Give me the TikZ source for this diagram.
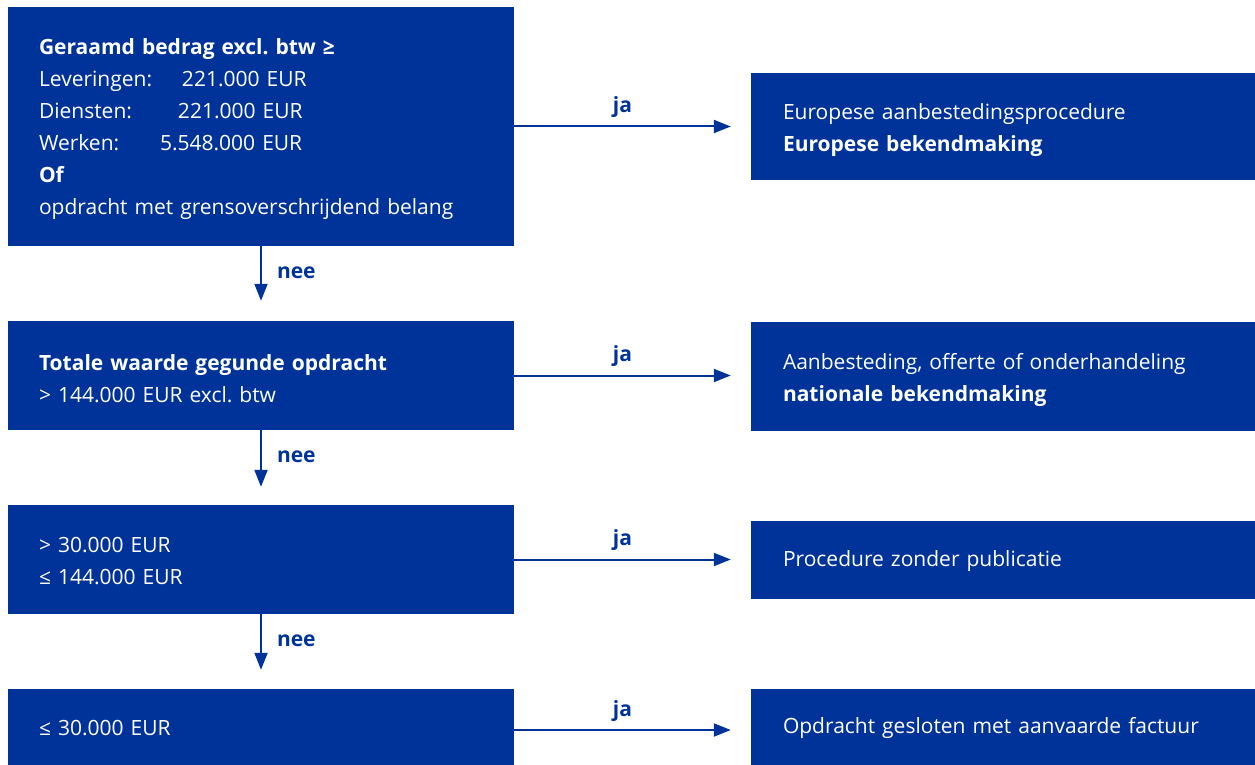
\documentclass[tikz,border=0pt]{standalone}
\usepackage{fontspec}
\setmainfont{Open Sans}
\frenchspacing
\usetikzlibrary{arrows.meta}
\definecolor{euBlue}{RGB}{0,51,153}
\newcommand{\bovenstrut}[1]{\rule{0pt}{#1}}

\begin{document}
\begin{tikzpicture}[x=1pt,y=-1pt,
    vak/.style={rectangle,fill=euBlue,text=white,align=left,inner ysep=0pt,
      font=\fontsize{21}{32}\selectfont},
    links/.style={vak,text width=444pt,inner xsep=31pt},
    rechts/.style={vak,text width=440pt,inner xsep=32pt},
    pijl/.style={euBlue,line width=2pt,-{Triangle[length=17pt,width=13pt]}},
    lbl/.style={text=euBlue,inner sep=0pt,font=\fontsize{21}{25}\selectfont\bfseries}]
    \useasboundingbox (0,0) rectangle (1255,765);
    % linker kolom: voorwaarden
    \node[links,minimum height=239pt] (l1) at (261,126.5) {\bovenstrut{22pt}\textbf{Geraamd bedrag excl. btw ≥}\\
      \makebox[143pt][l]{Leveringen:}221.000 EUR\\
      \makebox[139pt][l]{Diensten:}221.000 EUR\\
      \makebox[121pt][l]{Werken:}5.548.000 EUR\\
      \textbf{Of}\\
      opdracht met grensoverschrijdend belang};
    \node[links,minimum height=109pt] (l2) at (261,375.5) {\bovenstrut{22pt}\textbf{Totale waarde gegunde opdracht}\\ > 144.000 EUR excl. btw};
    \node[links,minimum height=109pt] (l3) at (261,559.5) {\bovenstrut{19pt}> 30.000 EUR\\ ≤ 144.000 EUR};
    \node[links,minimum height=78pt] (l4) at (261,728) {≤ 30.000 EUR};
    % rechter kolom: procedures
    \node[rechts,minimum height=107pt] (r1) at (1003,126.5) {\bovenstrut{24pt}Europese aanbestedingsprocedure\\ \textbf{Europese bekendmaking}};
    \node[rechts,minimum height=109pt] (r2) at (1003,376.5) {\bovenstrut{24pt}Aanbesteding, offerte of onderhandeling\\ \textbf{nationale bekendmaking}};
    \node[rechts,minimum height=78pt] (r3) at (1003,560) {\bovenstrut{18pt}Procedure zonder publicatie};
    \node[rechts,minimum height=78pt] (r4) at (1003,728) {Opdracht gesloten met aanvaarde factuur};
    % ja
    \draw[pijl,shorten >=20pt] (l1.east) -- (r1.west) node[lbl,midway,anchor=base,xshift=-10pt,yshift=14pt] {ja};
    \draw[pijl,shorten >=20pt] (l2.east) -- (l2.east -| r2.west) node[lbl,midway,anchor=base,xshift=-10pt,yshift=14pt] {ja};
    \draw[pijl,shorten >=20pt] (l3.east) -- (l3.east -| r3.west) node[lbl,midway,anchor=base,xshift=-10pt,yshift=14pt] {ja};
    \draw[pijl,shorten >=20pt] ([yshift=-2pt]l4.east) -- ([yshift=-2pt]l4.east -| r4.west) node[lbl,midway,anchor=base,xshift=-10pt,yshift=14pt] {ja};
    % nee
    \draw[pijl,shorten >=20pt] (l1) -- (l2) node[lbl,midway,anchor=base west,xshift=15pt,yshift=5pt] {nee};
    \draw[pijl,shorten >=18pt] (l2) -- (l3) node[lbl,midway,anchor=base west,xshift=15pt,yshift=5pt] {nee};
    \draw[pijl,shorten >=19pt] (l3) -- (l4) node[lbl,midway,anchor=base west,xshift=15pt,yshift=5pt] {nee};
  \end{tikzpicture}
\end{document}
